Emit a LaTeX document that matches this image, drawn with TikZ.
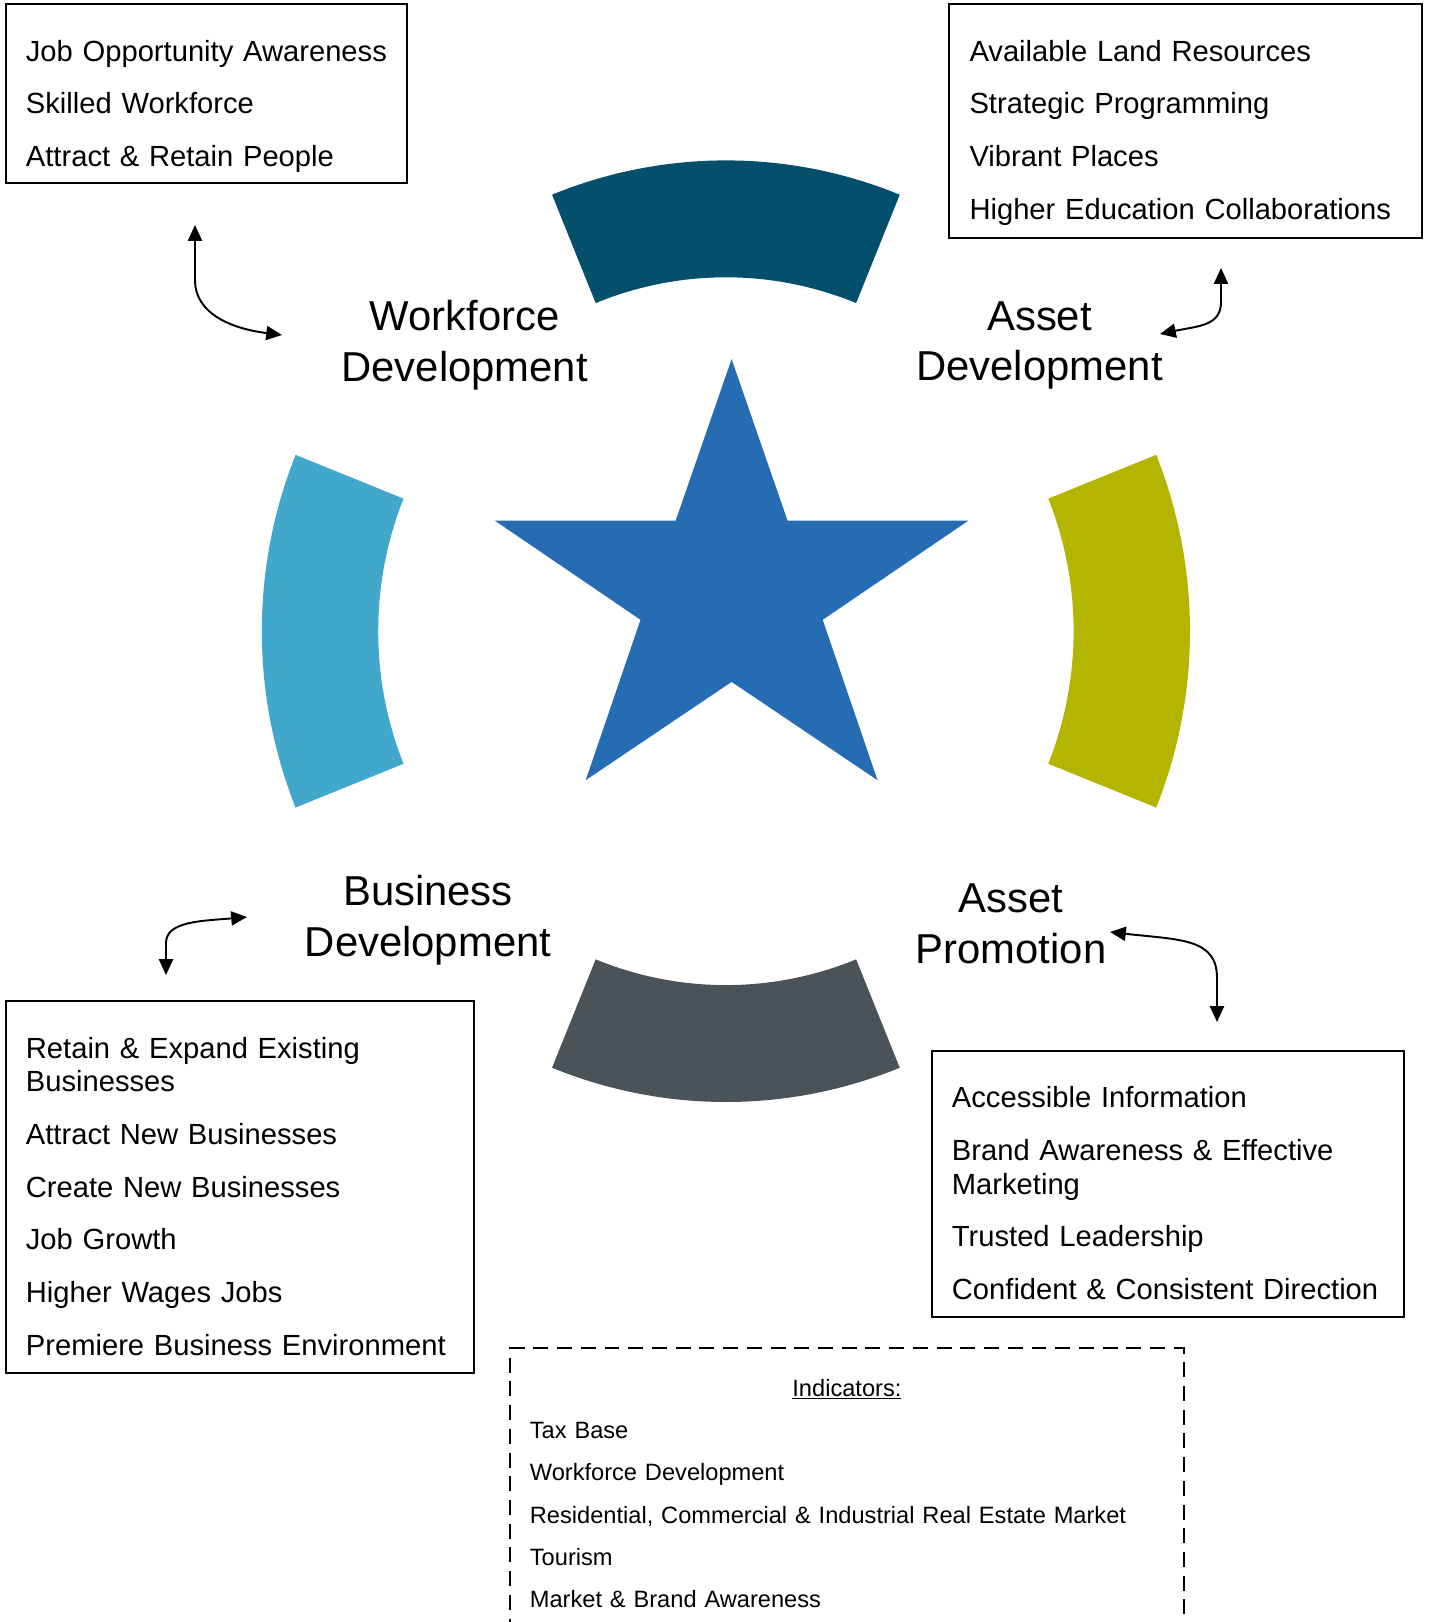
\documentclass[tikz,border=0pt]{standalone}
\usepackage{fontspec}
\setmainfont{Liberation Sans}
\usepackage{tikz}
\usetikzlibrary{arrows.meta,positioning,calc}
\usepackage{xcolor}

\definecolor{segtop}{RGB}{3,79,108}
\definecolor{segleft}{RGB}{65,168,204}
\definecolor{segright}{RGB}{180,181,0}
\definecolor{segbottom}{RGB}{73,83,88}
\definecolor{starblue}{RGB}{37,108,178}

\newcommand{\listfont}{\fontsize{16.6}{19.06}\selectfont}
\newcommand{\headfont}{\fontsize{23.8}{28.8}\selectfont}
\newcommand{\indfont}{\fontsize{13.45}{15.6}\selectfont}

\tikzset{
  listbox/.style={draw, line width=1.2pt, anchor=north west, outer sep=0pt,
    inner xsep=11.5pt, inner ysep=0pt, align=left, font=\listfont, text height=32.5pt},
  indbox/.style={draw, dashed, dash pattern=on 8.5pt off 5pt, line width=1.1pt,
    anchor=north west, outer sep=0pt, inner xsep=11.2pt, inner ysep=0pt,
    align=left, font=\indfont, text height=27.1pt, text depth=200pt},
  heading/.style={align=center, font=\headfont},
  link/.style={{Triangle[length=9pt,width=8pt]}-{Triangle[length=9pt,width=8pt]}, line width=1.1pt}
}

\begin{document}
\begin{tikzpicture}[x=0.02cm, y=-0.02cm]
  \useasboundingbox (0,0) rectangle (1428,1622);

  % ring of four segments
  \coordinate (hub) at (725.9,631.2);
  \fill[segtop] ($(hub)+(-112:464.1 and 470.8)$) arc[start angle=-112, end angle=-68, x radius=464.1, y radius=470.8]
    -- ($(hub)+(-68:347.7 and 353.9)$) arc[start angle=-68, end angle=-112, x radius=347.7, y radius=353.9] -- cycle;
  \fill[segbottom] ($(hub)+(68:464.1 and 470.8)$) arc[start angle=68, end angle=112, x radius=464.1, y radius=470.8]
    -- ($(hub)+(112:347.7 and 353.9)$) arc[start angle=112, end angle=68, x radius=347.7, y radius=353.9] -- cycle;
  \fill[segleft] ($(hub)+(158:464.1 and 470.8)$) arc[start angle=158, end angle=202, x radius=464.1, y radius=470.8]
    -- ($(hub)+(202:347.7 and 353.9)$) arc[start angle=202, end angle=158, x radius=347.7, y radius=353.9] -- cycle;
  \fill[segright] ($(hub)+(-22:464.1 and 470.8)$) arc[start angle=-22, end angle=22, x radius=464.1, y radius=470.8]
    -- ($(hub)+(22:347.7 and 353.9)$) arc[start angle=22, end angle=-22, x radius=347.7, y radius=353.9] -- cycle;

  % star in the middle
  \fill[starblue] (731.6,359.1) -- (787.5,520.5) -- (968.6,520.5) -- (822.7,619.8) -- (877.5,780.2)
    -- (731.6,681.9) -- (585.7,780.2) -- (640.5,619.8) -- (494.6,520.5) -- (675.7,520.5) -- cycle;

  % headings
  \node[heading] (wftitle) at (464.6,345.4) {Workforce\\Development};
  \node[heading] (adtitle) at (1039.5,345.4) {Asset\\Development};
  \node[heading] (bdtitle) at (428,920.2) {Business\\Development};
  \node[heading] (aptitle) at (1011.1,923.6) {Asset\\Promotion};

  % lists
  \node[listbox, text width=205.4pt, text depth=69.4pt] (wfbox) at (5.7,4)
    {\mbox{Job Opportunity Awareness}\\[10.94pt]
     Skilled Workforce\\[10.94pt]
     Attract \& Retain People};
  \node[listbox, text width=246.2pt, text depth=100.5pt] (adbox) at (949.3,4)
    {Available Land Resources\\[10.94pt]
     Strategic Programming\\[10.94pt]
     Vibrant Places\\[10.94pt]
     Higher Education Collaborations};
  \node[listbox, text width=243.5pt, text depth=179pt] (bdbox) at (5.7,1001)
    {Retain \& Expand Existing\\
     Businesses\\[10.94pt]
     Attract New Businesses\\[10.94pt]
     Create New Businesses\\[10.94pt]
     Job Growth\\[10.94pt]
     Higher Wages Jobs\\[10.94pt]
     Premiere Business Environment};
  \node[listbox, text width=245.8pt, text depth=119.2pt] (apbox) at (931.7,1050.7)
    {Accessible Information\\[10.94pt]
     Brand Awareness \& Effective\\
     Marketing\\[10.94pt]
     Trusted Leadership\\[10.94pt]
     Confident \& Consistent Direction};

  % indicators
  \node[indbox, text width=360.9pt] (indbox) at (510.2,1348.4)
    {\makebox[\linewidth]{\underline{Indicators:}}\\[8.5pt]
     Tax Base\\[8.5pt]
     Workforce Development\\[8.5pt]
     Residential, Commercial \& Industrial Real Estate Market\\[8.5pt]
     Tourism\\[8.5pt]
     Market \& Brand Awareness};

  % two-way arrows
  \coordinate (wf-a) at (195,225);
  \coordinate (wf-b) at (282,335);
  \coordinate (ad-a) at (1221,268);
  \coordinate (ad-b) at (1160,334);
  \coordinate (bd-a) at (166,975);
  \coordinate (bd-b) at (247,917);
  \coordinate (ap-a) at (1110,932);
  \coordinate (ap-b) at (1217,1022);
  \draw[link] (wf-a) -- ++(0,55) .. controls +(0,35) and +(-48,-6) .. (wf-b);
  \draw[link] (ad-a) -- ++(0,34) .. controls +(0,24) and +(38,-8) .. (ad-b);
  \draw[link] (bd-a) -- ++(0,-32) .. controls +(0,-22) and +(-45,4) .. (bd-b);
  \draw[link] (ap-b) -- ++(0,-44) .. controls +(0,-40) and +(70,8) .. (ap-a);
\end{tikzpicture}
\end{document}
